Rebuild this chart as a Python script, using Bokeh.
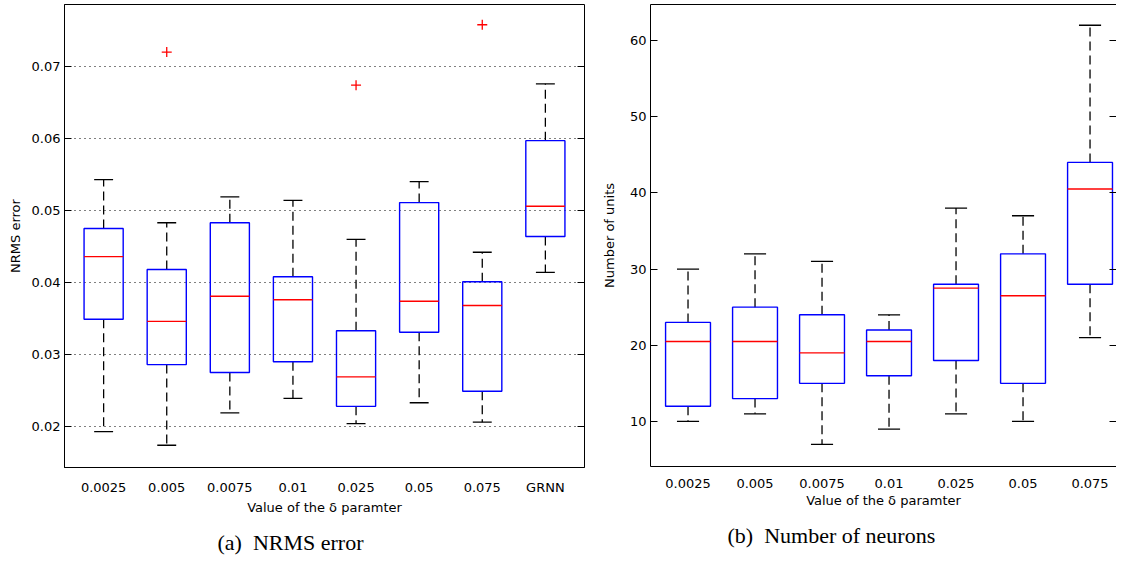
from bokeh.plotting import figure
from bokeh.models import (Range1d, FixedTicker, LinearAxis, Title, PrintfTickFormatter,
                          CustomLabelingPolicy)
from bokeh.layouts import row
from bokeh.embed import file_html
from bokeh.resources import INLINE

# ---- data: (a) NRMS error ----
categories_a = ["0.0025", "0.005", "0.0075", "0.01", "0.025", "0.05", "0.075", "GRNN"]
a_low = [0.0193, 0.0174, 0.0219, 0.0239, 0.0204, 0.0233, 0.0206, 0.0414]
a_q1 = [0.0349, 0.0286, 0.0275, 0.0290, 0.0228, 0.0331, 0.0249, 0.0464]
a_med = [0.0436, 0.0346, 0.0381, 0.0376, 0.0269, 0.0374, 0.0368, 0.0506]
a_q3 = [0.0475, 0.0418, 0.0483, 0.0408, 0.0333, 0.0511, 0.0401, 0.0597]
a_high = [0.0543, 0.0483, 0.0519, 0.0514, 0.0460, 0.0540, 0.0442, 0.0676]
a_out_cat = ["0.005", "0.025", "0.075"]
a_out_val = [0.0720, 0.0674, 0.0758]
a_yticks = [0.02, 0.03, 0.04, 0.05, 0.06, 0.07]

# ---- data: (b) Number of neurons ----
categories_b = ["0.0025", "0.005", "0.0075", "0.01", "0.025", "0.05", "0.075"]
b_low = [10, 11, 7, 9, 11, 10, 21]
b_q1 = [12, 13, 15, 16, 18, 15, 28]
b_med = [20.5, 20.5, 19, 20.5, 27.5, 26.5, 40.5]
b_q3 = [23, 25, 24, 22, 28, 32, 44]
b_high = [30, 32, 31, 24, 38, 37, 62]
b_yticks = [10, 20, 30, 40, 50, 60]

XLABEL = "Value of the \u03b4 paramter"
CAPTION_A = "(a)\u00a0 NRMS error"
CAPTION_B = "(b)\u00a0 Number of neurons"
TICK_FONT = "DejaVu Sans"

NO_LABELS = CustomLabelingPolicy(code="""
try {
  const all = Array.from(indices);
  for (const i of all) { indices.unset(i); }
} catch (e) {}
return indices;
""")


def draw_boxes(p, cats, low, q1, med, q3, high, box_w, cap_w):
    xs = [i + 1 for i in range(len(cats))]
    p.segment(x0=xs, y0=q3, x1=xs, y1=high, line_color="black", line_width=1.3, line_dash="9 5")
    p.segment(x0=xs, y0=q1, x1=xs, y1=low, line_color="black", line_width=1.3, line_dash="9 5")
    p.segment(x0=[x - cap_w / 2 for x in xs], y0=high, x1=[x + cap_w / 2 for x in xs], y1=high,
              line_color="black", line_width=1.3)
    p.segment(x0=[x - cap_w / 2 for x in xs], y0=low, x1=[x + cap_w / 2 for x in xs], y1=low,
              line_color="black", line_width=1.3)
    p.vbar(x=xs, width=box_w, bottom=q1, top=q3, fill_color=None, line_color="#0000ff", line_width=1.4)
    p.segment(x0=[x - box_w / 2 for x in xs], y0=med, x1=[x + box_w / 2 for x in xs], y1=med,
              line_color="#ff0000", line_width=1.4)
    return xs


def style_axes(p, cats, yticks, fmt, ylabel, label_standoff):
    xs = [i + 1 for i in range(len(cats))]
    xa = p.xaxis[0]
    xa.ticker = FixedTicker(ticks=xs)
    xa.major_label_overrides = {x: c for x, c in zip(xs, cats)}
    xa.major_tick_in = 0
    xa.major_tick_out = 0
    xa.minor_tick_line_color = None
    xa.axis_line_color = "black"
    xa.major_label_standoff = 12
    xa.major_label_text_font = TICK_FONT
    xa.major_label_text_font_size = "13px"
    xa.major_label_text_color = "black"
    xa.axis_label = XLABEL
    xa.axis_label_text_font = TICK_FONT
    xa.axis_label_text_font_size = "13px"
    xa.axis_label_text_font_style = "normal"
    xa.axis_label_text_color = "black"
    xa.axis_label_standoff = 2

    ya = p.yaxis[0]
    ya.ticker = FixedTicker(ticks=yticks)
    if fmt:
        ya.formatter = PrintfTickFormatter(format=fmt)
    ya.major_tick_in = 7
    ya.major_tick_out = 0
    ya.minor_tick_line_color = None
    ya.axis_line_color = "black"
    ya.major_label_standoff = 4
    ya.major_label_text_font = TICK_FONT
    ya.major_label_text_font_size = "13px"
    ya.major_label_text_color = "black"
    ya.axis_label = ylabel
    ya.axis_label_text_font = TICK_FONT
    ya.axis_label_text_font_size = "13px"
    ya.axis_label_text_font_style = "normal"
    ya.axis_label_text_color = "black"
    ya.axis_label_standoff = label_standoff

    ra = LinearAxis(ticker=FixedTicker(ticks=yticks), axis_line_color=None,
                    major_tick_in=7, major_tick_out=0, minor_tick_line_color=None,
                    major_label_policy=NO_LABELS,
                    major_label_text_font_size="0px", major_label_standoff=0)
    p.add_layout(ra, "right")


# ---------------- figure (a) ----------------
p1 = figure(frame_width=520, frame_height=463,
            x_range=Range1d(0.38, 8.62), y_range=Range1d(0.01431, 0.07861),
            output_backend="svg", toolbar_location=None,
            min_border_left=64, min_border_right=14, min_border_top=4, min_border_bottom=0)
p1.outline_line_color = "black"
p1.outline_line_width = 1
p1.xgrid.grid_line_color = None
p1.ygrid.ticker = FixedTicker(ticks=a_yticks)
p1.ygrid.grid_line_color = "black"
p1.ygrid.grid_line_dash = "1 4"
p1.ygrid.grid_line_width = 1.2
style_axes(p1, categories_a, a_yticks, "%.2f", "NRMS error", 6)
draw_boxes(p1, categories_a, a_low, a_q1, a_med, a_q3, a_high, 0.62, 0.30)
out_x = [categories_a.index(c) + 1 for c in a_out_cat]
p1.scatter(x=out_x, y=a_out_val, marker="cross", size=10, line_color="#ff0000", line_width=1.3)
p1.add_layout(Title(text=CAPTION_A, align="left", offset=153,
                    text_font="Liberation Serif", text_font_size="22px",
                    text_font_style="normal", text_color="black", standoff=20), "below")

# ---------------- figure (b) ----------------
p2 = figure(frame_width=466, frame_height=462,
            x_range=Range1d(0.44, 7.395), y_range=Range1d(4.09, 64.72),
            output_backend="svg", toolbar_location=None,
            min_border_left=52, min_border_right=0, min_border_top=4, min_border_bottom=0)
p2.outline_line_color = None
p2.grid.grid_line_color = None
style_axes(p2, categories_b, b_yticks, None, "Number of units", 10)
top_axis = LinearAxis(ticker=FixedTicker(ticks=[]), axis_line_color="black",
                      major_tick_in=0, major_tick_out=0, minor_tick_line_color=None,
                      major_label_policy=NO_LABELS,
                      major_label_text_font_size="0px", major_label_standoff=0)
p2.add_layout(top_axis, "above")
draw_boxes(p2, categories_b, b_low, b_q1, b_med, b_q3, b_high, 0.67, 0.33)
p2.add_layout(Title(text=CAPTION_B, align="left", offset=77,
                    text_font="Liberation Serif", text_font_size="22px",
                    text_font_style="normal", text_color="black", standoff=20), "below")

layout = row(p1, p2)
open("out.html", "w").write(file_html(layout, INLINE))
